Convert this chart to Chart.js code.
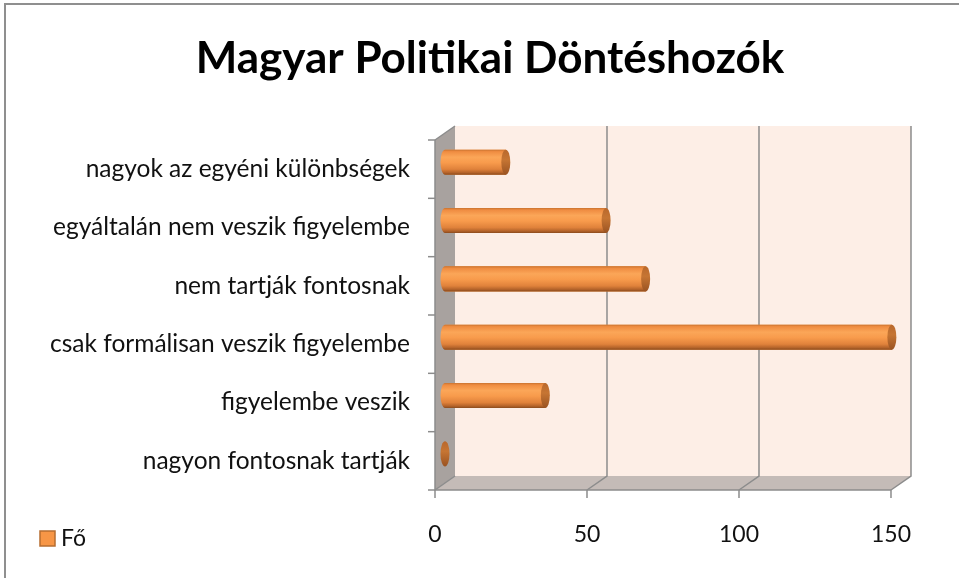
<!DOCTYPE html>
<html>
<head>
<meta charset="utf-8">
<script src="https://cdn.jsdelivr.net/npm/chart.js@4.4.1/dist/chart.umd.min.js"></script>
<style>
html,body{margin:0;padding:0;background:#fff;}
#wrap{width:959px;height:578px;position:relative;}
</style>
</head>
<body>
<div id="wrap"><canvas id="c" width="959" height="578"></canvas></div>
<script>
const TITLE = 'Magyar Politikai Döntéshozók';
const SERIES_NAME = 'Fő';
const categories = [
  'nagyok az egyéni különbségek',
  'egyáltalán nem veszik figyelembe',
  'nem tartják fontosnak',
  'csak formálisan veszik figyelembe',
  'figyelembe veszik',
  'nagyon fontosnak tartják'
];
const values = [20, 53, 66, 147, 33, 0];
const xTicks = [0, 50, 100, 150];

const DX = 10, DY = 7; // half depth offset (3D look)
const LINE = '#8c8c8c';
const FONT = 'Lato, "Open Sans", sans-serif';

const frame3d = {
  id: 'frame3d',
  afterLayout(chart) {
    if (chart.titleBlock) { chart.titleBlock.left = 76; chart.titleBlock.right = 904; }
  },
  beforeDraw(chart) {
    const ctx = chart.ctx;
    ctx.save();
    ctx.fillStyle = '#fff';
    ctx.fillRect(0, 0, chart.width, chart.height);
    ctx.strokeStyle = '#8f8f8f';
    ctx.lineWidth = 2;
    ctx.beginPath();
    ctx.moveTo(5, chart.height);
    ctx.lineTo(5, 4);
    ctx.lineTo(chart.width, 4);
    ctx.stroke();
    ctx.restore();
  },
  beforeDatasetsDraw(chart) {
    const ctx = chart.ctx, xs = chart.scales.x, ys = chart.scales.y, ca = chart.chartArea;
    const x0 = xs.getPixelForValue(xTicks[0]);
    const x1 = xs.getPixelForValue(xTicks[xTicks.length - 1]);
    const top = ca.top, bot = ca.bottom;
    ctx.save();
    ctx.fillStyle = '#fdeee6';
    ctx.fillRect(x0 + DX, top - DY, x1 - x0, bot - top);
    ctx.fillStyle = '#a8a29f';
    ctx.beginPath();
    ctx.moveTo(x0 - DX, top + DY);
    ctx.lineTo(x0 + DX, top - DY);
    ctx.lineTo(x0 + DX, bot - DY);
    ctx.lineTo(x0 - DX, bot + DY);
    ctx.closePath();
    ctx.fill();
    ctx.fillStyle = '#c4bbb7';
    ctx.beginPath();
    ctx.moveTo(x0 - DX, bot + DY);
    ctx.lineTo(x0 + DX, bot - DY);
    ctx.lineTo(x1 + DX, bot - DY);
    ctx.lineTo(x1 - DX, bot + DY);
    ctx.closePath();
    ctx.fill();
    ctx.strokeStyle = LINE;
    ctx.lineWidth = 1.5;
    xTicks.forEach(v => {
      const px = xs.getPixelForValue(v);
      ctx.beginPath();
      if (v !== xTicks[0]) {
        ctx.moveTo(px + DX, top - DY);
        ctx.lineTo(px + DX, bot - DY);
      } else {
        ctx.moveTo(px + DX, bot - DY);
      }
      ctx.lineTo(px - DX, bot + DY);
      ctx.stroke();
      ctx.beginPath();
      ctx.moveTo(px - DX, bot + DY);
      ctx.lineTo(px - DX, bot + DY + 8);
      ctx.stroke();
    });
    ctx.beginPath();
    ctx.moveTo(x0 - DX, top + DY);
    ctx.lineTo(x0 + DX, top - DY);
    ctx.stroke();
    ctx.beginPath();
    ctx.moveTo(x0 - DX, top + DY);
    ctx.lineTo(x0 - DX, bot + DY);
    ctx.lineTo(x1 - DX, bot + DY);
    ctx.stroke();
    for (let i = 0; i <= categories.length; i++) {
      const py = ys.getPixelForValue(i - 0.5) + DY;
      ctx.beginPath();
      ctx.moveTo(x0 - DX, py);
      ctx.lineTo(x0 - DX - 7, py);
      ctx.stroke();
    }
    ctx.restore();
  },
  afterDatasetsDraw(chart) {
    const ctx = chart.ctx;
    const meta = chart.getDatasetMeta(0);
    ctx.save();
    meta.data.forEach(el => {
      const p = el.getProps(['x', 'y', 'base', 'height'], true);
      const h = p.height, t = p.y - h / 2;
      const rx = 4.5, ry = h / 2;
      const g = ctx.createLinearGradient(0, t, 0, t + h);
      g.addColorStop(0, '#c8722f');
      g.addColorStop(0.08, '#ef8c41');
      g.addColorStop(0.3, '#fba658');
      g.addColorStop(0.52, '#f89b4c');
      g.addColorStop(0.78, '#e0823b');
      g.addColorStop(0.92, '#b4632a');
      g.addColorStop(1, '#8a4a1c');
      const left = Math.min(p.base, p.x), right = Math.max(p.base, p.x);
      if (right - left > 0.5) {
        ctx.fillStyle = g;
        ctx.beginPath();
        ctx.ellipse(left, p.y, rx, ry, 0, Math.PI / 2, Math.PI * 1.5);
        ctx.lineTo(right, t);
        ctx.lineTo(right, t + h);
        ctx.closePath();
        ctx.fill();
      }
      const cg = ctx.createLinearGradient(0, t, 0, t + h);
      cg.addColorStop(0, '#b9682c');
      cg.addColorStop(0.4, '#c67533');
      cg.addColorStop(1, '#9a5322');
      ctx.fillStyle = cg;
      ctx.beginPath();
      ctx.ellipse(right, p.y, rx, ry, 0, 0, Math.PI * 2);
      ctx.fill();
    });
    ctx.restore();
  },
  afterDraw(chart) {
    // legend (bottom-left, same row as the value-axis labels)
    const ctx = chart.ctx;
    const ds = chart.data.datasets[0];
    ctx.save();
    ctx.fillStyle = '#f79646';
    ctx.strokeStyle = '#b66d31';
    ctx.lineWidth = 1.5;
    ctx.fillRect(40, 531, 15, 15);
    ctx.strokeRect(40, 531, 15, 15);
    ctx.fillStyle = '#111';
    ctx.font = '23px ' + FONT;
    ctx.textBaseline = 'middle';
    ctx.textAlign = 'left';
    ctx.fillText(ds.label, 61, 538.5);
    ctx.restore();
  }
};

Chart.defaults.font.family = FONT;
Chart.defaults.color = '#111';

new Chart(document.getElementById('c'), {
  type: 'bar',
  data: {
    labels: categories,
    datasets: [{
      label: SERIES_NAME,
      data: values,
      backgroundColor: '#f79646',
      borderWidth: 0,
      barPercentage: 0.43,
      categoryPercentage: 1.0
    }]
  },
  options: {
    indexAxis: 'y',
    responsive: false,
    animation: false,
    layout: { padding: { top: 8, left: 30, right: 55, bottom: 0 } },
    plugins: {
      title: {
        display: true,
        text: TITLE,
        color: '#000',
        font: { size: 44, weight: 'bold', lineHeight: 1.2 },
        padding: { top: 24.6, bottom: 47.6 }
      },
      legend: { display: false },
      tooltip: { enabled: false }
    },
    scales: {
      x: {
        min: 0, max: 150,
        border: { display: false },
        grid: { display: false, drawTicks: false },
        ticks: { stepSize: 50, padding: 38, labelOffset: -10, color: '#111', font: { size: 23 } },
        afterFit(s) { s.height = s.chart.height - 483; }
      },
      y: {
        border: { display: false },
        grid: { display: false, drawTicks: false },
        ticks: { padding: 35, labelOffset: 7, color: '#111', font: { size: 24.5 } },
        afterFit(s) { s.width = 415; }
      }
    }
  },
  plugins: [frame3d]
});
</script>
</body>
</html>
